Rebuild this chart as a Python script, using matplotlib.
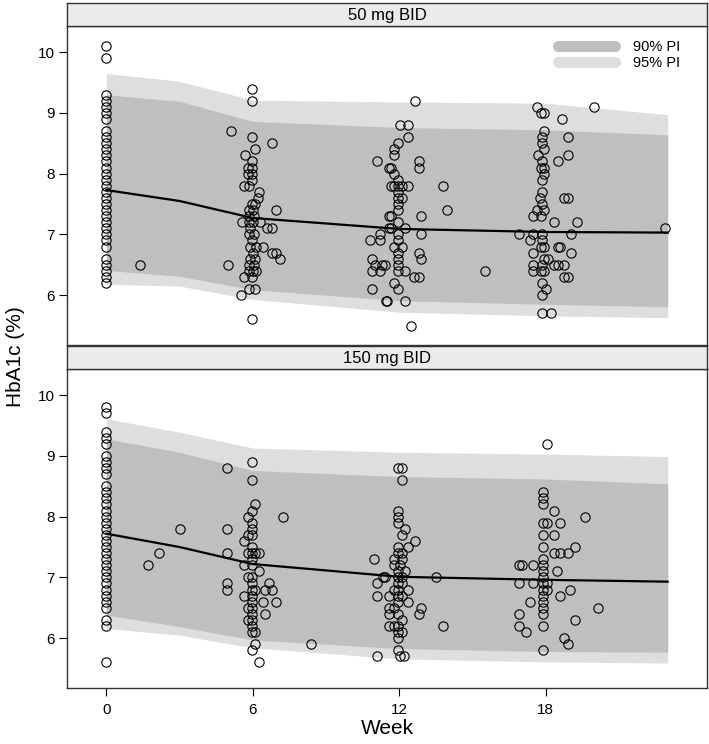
import numpy as np
import matplotlib.pyplot as plt
from matplotlib.lines import Line2D

plt.rcParams['font.family'] = ['Liberation Sans', 'DejaVu Sans']

# prediction-interval grid (weeks)
times = [0, 3, 6, 12, 18, 23]

# 50 mg BID bands
p1_lo95 = [6.18, 6.15, 5.93, 5.72, 5.66, 5.63]
p1_lo90 = [6.41, 6.31, 6.09, 5.91, 5.85, 5.81]
p1_med = [7.73, 7.55, 7.27, 7.09, 7.04, 7.03]
p1_hi90 = [9.30, 9.19, 8.86, 8.76, 8.72, 8.64]
p1_hi95 = [9.65, 9.52, 9.21, 9.18, 9.16, 8.97]

# 150 mg BID bands
p2_lo95 = [6.16, 6.05, 5.84, 5.66, 5.61, 5.59]
p2_lo90 = [6.38, 6.19, 5.97, 5.83, 5.78, 5.77]
p2_med = [7.72, 7.50, 7.22, 7.01, 6.96, 6.93]
p2_hi90 = [9.28, 9.06, 8.76, 8.66, 8.62, 8.54]
p2_hi95 = [9.61, 9.39, 9.13, 9.06, 9.03, 8.99]

# observed HbA1c, 50 mg BID
p1_base = [10.1, 9.9, 9.3, 9.2, 9.1, 9.0, 8.9, 8.7, 8.6, 8.5, 8.4, 8.3, 8.2, 8.1,
           8.0, 7.9, 7.8, 7.7, 7.6, 7.5, 7.4, 7.3, 7.2, 7.1, 7.0, 6.9, 6.8, 6.6,
           6.5, 6.4, 6.3, 6.2]
p1_week = [1.4, 5.0, 5.1, 5.5,
           5.95, 5.95, 5.95, 6.8, 6.1, 5.7, 5.95, 5.95, 5.8, 5.95, 5.8, 5.95,
           5.65, 5.85, 6.25, 6.2, 5.95, 6.1, 6.95, 5.85, 6.0, 5.85, 6.05, 5.55,
           5.85, 6.3, 6.0, 6.6, 6.8, 5.9, 6.05, 5.85, 5.95, 6.15, 6.4, 5.9, 6.8,
           6.95, 6.0, 7.1, 5.9, 6.1, 5.85, 6.05, 5.85, 6.0, 6.15, 5.65, 5.95,
           5.85, 6.1, 5.95,
           11.1, 11.6, 10.8, 11.2, 11.2, 10.9, 11.0, 11.3, 10.9, 11.2, 10.9,
           11.45, 11.6, 11.6, 12.65, 12.05, 12.35, 12.35, 11.95, 11.8, 11.8, 12.8,
           12.8, 11.65, 11.8, 11.95, 11.65, 11.8, 11.95, 12.1, 12.35, 13.8, 11.95,
           12.1, 11.95, 13.95, 12.9, 11.65, 11.95, 11.95, 11.95, 11.65, 12.25,
           11.95, 12.9, 11.95, 11.8, 12.1, 11.95, 12.8, 12.9, 11.95, 11.4, 11.95,
           12.25, 11.95, 12.6, 12.8, 11.8, 11.95, 11.5, 12.25, 12.5, 15.5,
           17.65, 17.8, 17.95, 18.65, 20.0, 17.95, 17.85, 17.85, 18.9, 17.95,
           17.7, 18.9, 18.5, 17.85, 17.95, 17.8, 17.95, 17.85, 17.85, 18.75, 18.9,
           17.75, 17.85, 17.65, 17.95, 17.5, 17.8, 18.35, 19.3, 16.9, 17.35, 17.5,
           17.85, 19.05, 22.9, 17.85, 17.5, 17.8, 17.95, 18.5, 18.6, 19.05, 17.95,
           18.1, 18.35, 18.5, 18.75, 17.5, 17.8, 17.95, 18.75, 18.9, 17.85, 18.0,
           17.85, 17.85, 18.2, 17.5, 17.85]
p1_val = [6.5, 6.5, 8.7, 6.0,
          9.4, 9.2, 8.6, 8.5, 8.4, 8.3, 8.2, 8.1, 8.1, 8.0, 8.0, 7.9,
          7.8, 7.8, 7.7, 7.6, 7.5, 7.5, 7.4, 7.4, 7.4, 7.3, 7.3, 7.2,
          7.2, 7.2, 7.2, 7.1, 7.1, 7.1, 7.0, 7.0, 6.9, 6.8, 6.8, 6.8, 6.7,
          6.7, 6.7, 6.6, 6.6, 6.6, 6.5, 6.5, 6.4, 6.4, 6.4, 6.3, 6.3,
          6.1, 6.1, 5.6,
          8.2, 8.1, 6.9, 6.9, 7.0, 6.6, 6.5, 6.5, 6.4, 6.4, 6.1,
          5.9, 7.3, 7.1, 9.2, 8.8, 8.8, 8.6, 8.5, 8.4, 8.3, 8.2,
          8.1, 8.1, 8.0, 7.9, 7.8, 7.8, 7.8, 7.8, 7.8, 7.8, 7.6,
          7.6, 7.7, 7.4, 7.3, 7.3, 7.5, 7.4, 7.2, 7.1, 7.1,
          7.0, 7.0, 6.9, 6.8, 6.8, 6.7, 6.7, 6.6, 6.6, 6.5, 6.5,
          6.4, 6.4, 6.3, 6.3, 6.2, 6.1, 5.9, 5.9, 5.5, 6.4,
          9.1, 9.0, 9.0, 8.9, 9.1, 8.7, 8.6, 8.5, 8.6, 8.4,
          8.3, 8.3, 8.2, 8.2, 8.1, 8.1, 8.0, 7.9, 7.7, 7.6, 7.6,
          7.6, 7.5, 7.4, 7.4, 7.3, 7.3, 7.2, 7.2, 7.0, 6.9, 7.0,
          7.0, 7.0, 7.1, 6.9, 6.7, 6.8, 6.8, 6.8, 6.8, 6.7, 6.6,
          6.6, 6.5, 6.5, 6.5, 6.4, 6.4, 6.4, 6.3, 6.3, 6.2, 6.1,
          6.0, 5.7, 5.7, 6.5, 6.5]

# observed HbA1c, 150 mg BID
p2_base = [9.8, 9.7, 9.4, 9.3, 9.2, 9.0, 8.9, 8.8, 8.7, 8.5, 8.4, 8.3, 8.2, 8.1,
           8.0, 7.9, 7.8, 7.7, 7.6, 7.5, 7.4, 7.3, 7.2, 7.1, 7.0, 6.9, 6.8, 6.7,
           6.6, 6.5, 6.3, 6.2, 5.6]
p2_week = [1.7, 2.15, 3.0, 4.95, 4.95, 4.95, 4.95, 4.95, 8.4, 7.25,
           5.95, 5.95, 6.1, 5.95, 5.8, 5.95, 5.95, 5.65, 5.95, 5.95, 5.8, 5.95,
           6.1, 6.25, 5.95, 5.65, 5.95, 6.25, 5.8, 5.95, 6.65, 6.5, 6.8, 5.95,
           5.95, 5.65, 5.95, 6.4, 6.95, 5.95, 5.95, 6.5, 5.95, 5.8, 5.95, 5.95,
           5.95, 6.1, 6.1, 5.95, 6.25, 5.8, 6.1, 5.8,
           10.95, 11.1, 11.1, 11.35, 11.1, 11.6, 11.6, 11.6, 11.6,
           11.95, 12.1, 12.1, 11.95, 11.95, 11.95, 12.25, 12.1, 12.65, 12.35,
           11.95, 11.95, 12.1, 11.8, 12.1, 11.8, 12.05, 12.25, 11.95, 11.4, 13.5,
           11.95, 12.1, 11.95, 12.1, 12.35, 11.8, 11.95, 11.95, 12.1, 12.35,
           11.95, 11.8, 12.9, 12.8, 11.95, 12.1, 11.8, 11.95, 13.8, 11.95, 12.1,
           11.95, 12.05, 12.2, 11.95,
           18.05, 17.9, 17.9, 17.9, 18.35, 19.6, 17.9, 18.05, 18.6, 17.9, 18.35,
           17.9, 19.2, 18.35, 18.6, 18.9, 17.9, 16.9, 17.05, 17.5, 17.9, 18.45,
           17.9, 16.9, 17.5, 17.9, 17.9, 18.05, 17.9, 18.05, 19.0, 18.6, 17.9,
           17.35, 17.9, 20.15, 17.9, 16.9, 17.9, 19.2, 16.9, 17.9, 17.2, 18.75,
           18.9, 17.9]
p2_val = [7.2, 7.4, 7.8, 8.8, 7.8, 7.4, 6.9, 6.8, 5.9, 8.0,
          8.9, 8.6, 8.2, 8.1, 8.0, 7.9, 7.8, 7.6, 7.7, 7.5, 7.4, 7.4,
          7.4, 7.4, 7.3, 7.2, 7.2, 7.1, 7.0, 7.0, 6.9, 6.8, 6.8, 6.9,
          6.8, 6.7, 6.7, 6.6, 6.6, 6.6, 6.5, 6.4, 6.4, 6.3, 6.3, 6.2,
          6.1, 6.1, 5.9, 5.8, 5.6, 6.5, 6.8, 7.7,
          7.3, 6.9, 6.7, 7.0, 5.7, 6.7, 6.5, 6.4, 6.2,
          8.8, 8.8, 8.6, 8.1, 8.0, 7.9, 7.8, 7.7, 7.6, 7.5,
          7.5, 7.4, 7.4, 7.3, 7.3, 7.2, 7.2, 7.1, 7.1, 7.0, 7.0,
          7.0, 7.0, 6.9, 6.9, 6.8, 6.8, 6.8, 6.7, 6.7, 6.6,
          6.6, 6.5, 6.5, 6.4, 6.4, 6.3, 6.2, 6.2, 6.2, 6.1, 6.1,
          5.8, 5.7, 5.7, 6.0,
          9.2, 8.4, 8.3, 8.2, 8.1, 8.0, 7.9, 7.9, 7.9, 7.7, 7.7,
          7.5, 7.5, 7.4, 7.4, 7.4, 7.3, 7.2, 7.2, 7.2, 7.2, 7.1,
          7.1, 6.9, 6.9, 7.0, 6.9, 6.9, 6.8, 6.8, 6.8, 6.7, 6.7,
          6.6, 6.6, 6.5, 6.5, 6.4, 6.4, 6.3, 6.2, 6.2, 6.1, 6.0,
          5.9, 5.8]

panels = [
    ("50 mg BID", p1_lo95, p1_lo90, p1_med, p1_hi90, p1_hi95, p1_base, p1_week, p1_val),
    ("150 mg BID", p2_lo95, p2_lo90, p2_med, p2_hi90, p2_hi95, p2_base, p2_week, p2_val),
]

c90 = '#bfbfbf'
c95 = '#dedede'

fig = plt.figure(figsize=(7.09, 7.44), dpi=100)
W, H = 709, 744
left, right = 67 / W, 707 / W
boxes = [(26, 345), (369, 688)]   # (top, bottom) in pixels

for i, (title, lo95, lo90, med, hi90, hi95, base, wk, val) in enumerate(panels):
    top, bot = boxes[i]
    ax = fig.add_axes([left, 1 - bot / H, right - left, (bot - top) / H])
    strip = fig.add_axes([left, 1 - top / H, right - left, 23 / H])
    strip.set_facecolor('#ebebeb')
    strip.set_xticks([])
    strip.set_yticks([])
    for s in strip.spines.values():
        s.set_color('#333333')
        s.set_linewidth(1.0)
    strip.text(0.5, 0.45, title, ha='center', va='center', fontsize=12,
               transform=strip.transAxes)

    ax.fill_between(times, lo95, hi95, color=c95, lw=0)
    ax.fill_between(times, lo90, hi90, color=c90, lw=0)
    ax.plot(times, med, color='black', lw=1.6)

    ax.plot(np.zeros(len(base)), base, 'o', mfc='none', mec='black', ms=6.7, mew=0.8)
    ax.plot(wk, val, 'o', mfc='none', mec='black', ms=6.7, mew=0.8)

    ax.set_xlim(-1.61, 24.61)
    ax.set_ylim(5.18, 10.43)
    ax.set_yticks([6, 7, 8, 9, 10])
    ax.tick_params(axis='y', direction='out', length=6, width=0.8, labelsize=11, pad=3)
    for s in ax.spines.values():
        s.set_color('#333333')
        s.set_linewidth(1.0)
    if i == 1:
        ax.set_xticks([0, 6, 12, 18])
        ax.tick_params(axis='x', direction='out', length=6, width=0.8, labelsize=11, pad=5)
    else:
        ax.set_xticks([])
        handles = [Line2D([], [], color=c90, lw=8, solid_capstyle='round'),
                   Line2D([], [], color=c95, lw=8, solid_capstyle='round')]
        ax.legend(handles, ['90% PI', '95% PI'], loc='upper right', frameon=False,
                  fontsize=10.5, handlelength=3.9, handletextpad=1.2, labelspacing=0.15,
                  bbox_to_anchor=(0.967, 0.975), borderaxespad=0)

fig.text((left + right) / 2, 1 - 728 / H, 'Week', ha='center', va='center', fontsize=15)
fig.text(16 / W, 1 - 357 / H, 'HbA1c (%)', ha='center', va='center', fontsize=15,
         rotation=90)

fig.savefig('out.png', dpi=100)
